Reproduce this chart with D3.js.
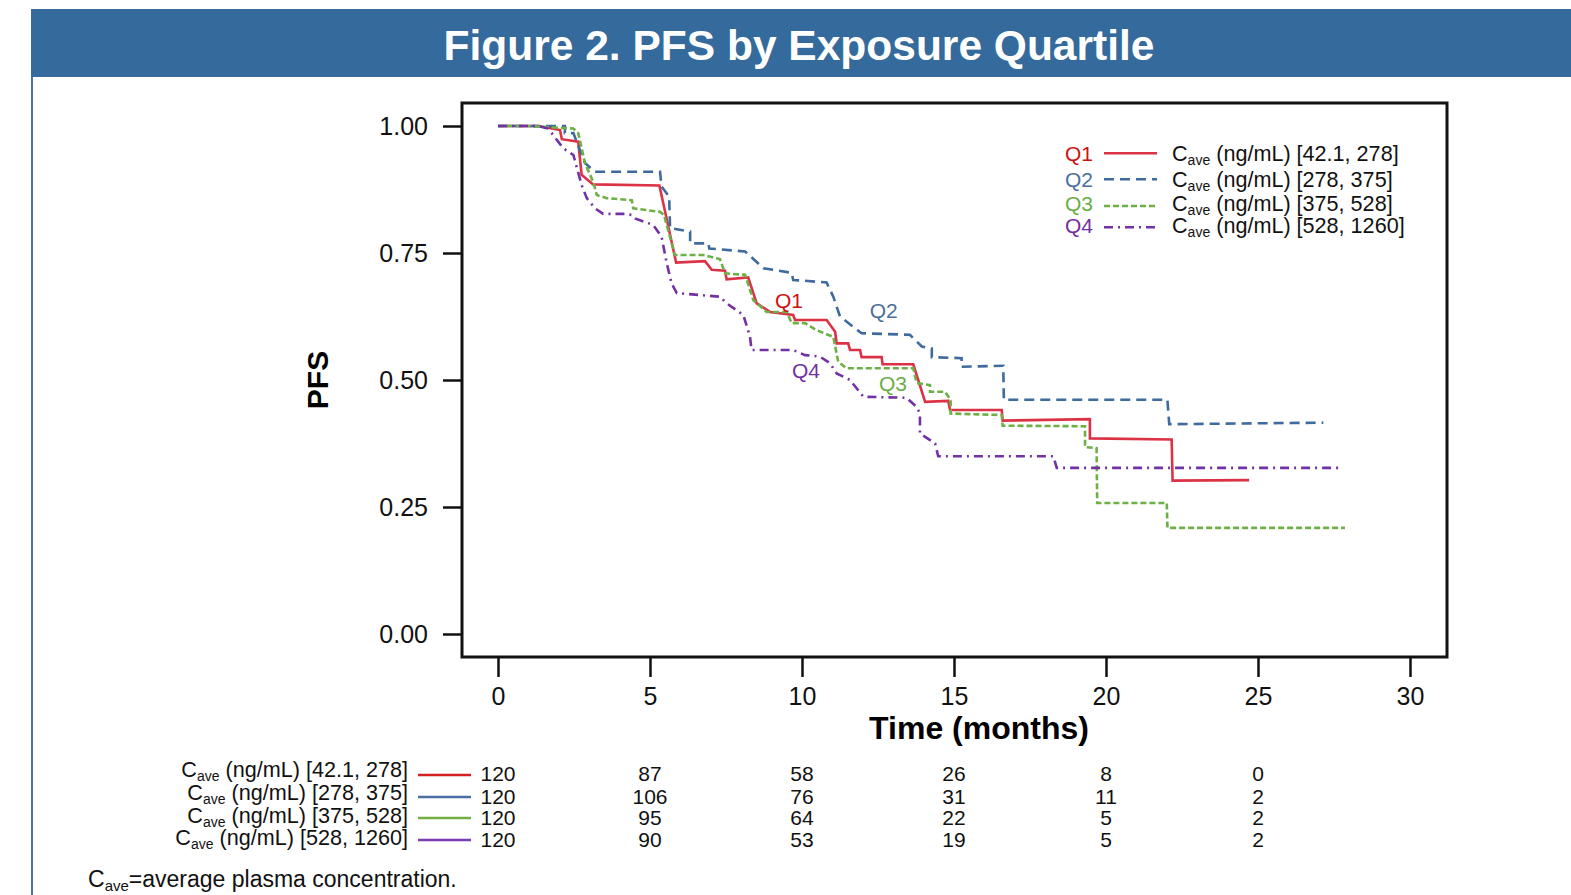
<!DOCTYPE html>
<html>
<head>
    <meta charset="utf-8">
    <script src="https://cdnjs.cloudflare.com/ajax/libs/d3/7.8.5/d3.min.js"></script>
    <style>
        body { margin: 0; background: #fff; }
        svg text { font-family: "Liberation Sans", Arial, sans-serif; }
        .tick text { font-size: 25px; fill: #111; }
        .tick line { stroke: #111; stroke-width: 2.5px; }
    </style>
</head>
<body>
    <div id="chart"></div>
    <script>
        // Kaplan-Meier curves: [time (months), PFS]
        const q1 = [[0,1],[1.33,1],[2.04,0.992],[2.10,0.974],[2.64,0.969],[2.75,0.904],[3.13,0.885],
            [5.31,0.883],[5.86,0.731],[6.81,0.734],[7.03,0.717],[7.47,0.715],[7.52,0.698],[8.23,0.702],
            [8.51,0.651],[8.95,0.634],[9.71,0.628],[9.77,0.618],[10.81,0.618],[11.09,0.595],[11.14,0.572],
            [11.52,0.572],[11.58,0.559],[11.91,0.559],[11.96,0.545],[12.62,0.545],[12.65,0.531],
            [13.66,0.531],[14.05,0.457],[14.81,0.459],[14.87,0.441],[16.57,0.441],[16.60,0.420],
            [19.47,0.423],[19.47,0.385],[22.16,0.383],[22.19,0.302],[24.71,0.303]];
        const q2 = [[0,1],[2.20,1],[2.20,0.986],[2.48,0.986],[2.86,0.927],[3.19,0.910],[5.33,0.910],
            [5.38,0.881],[5.63,0.861],[5.66,0.799],[6.32,0.792],[6.32,0.769],[6.92,0.769],[6.95,0.759],
            [8.13,0.753],[8.73,0.720],[9.66,0.711],[9.71,0.697],[10.81,0.692],[11.03,0.664],[11.25,0.625],
            [11.96,0.592],[13.55,0.589],[13.94,0.566],[14.27,0.562],[14.27,0.545],[15.25,0.543],
            [15.25,0.526],[16.62,0.528],[16.64,0.461],[22.02,0.461],[22.08,0.413],[27.15,0.416]];
        const q3 = [[0,1],[0.94,1],[2.48,0.995],[2.64,0.986],[2.86,0.927],[3.13,0.890],[3.25,0.864],
            [3.58,0.858],[4.40,0.854],[4.45,0.838],[5.33,0.831],[5.46,0.825],[5.82,0.746],[6.75,0.746],
            [7.30,0.738],[7.47,0.710],[8.13,0.707],[8.40,0.657],[8.84,0.634],[9.50,0.634],[9.66,0.612],
            [10.10,0.612],[10.48,0.598],[11.03,0.585],[11.19,0.536],[11.47,0.523],[13.66,0.523],
            [13.77,0.494],[14.21,0.490],[14.21,0.477],[14.70,0.477],[14.89,0.461],[14.89,0.434],
            [16.57,0.431],[16.60,0.410],[19.31,0.409],[19.31,0.368],[19.69,0.366],[19.71,0.258],
            [22.00,0.258],[22.02,0.209],[27.86,0.209]];
        const q4 = [[0,1],[1.33,1],[1.65,0.995],[2.15,0.956],[2.48,0.943],[2.75,0.884],[2.92,0.858],
            [3.19,0.838],[3.46,0.827],[4.12,0.827],[4.40,0.825],[4.51,0.818],[5.11,0.805],[5.38,0.782],
            [5.55,0.730],[5.71,0.690],[5.88,0.671],[7.30,0.664],[7.52,0.651],[8.07,0.628],[8.29,0.585],
            [8.34,0.559],[9.71,0.559],[10.10,0.549],[10.59,0.546],[10.92,0.533],[11.14,0.513],
            [11.58,0.500],[12.02,0.467],[13.44,0.465],[13.77,0.447],[13.88,0.434],[13.88,0.395],
            [14.38,0.375],[14.48,0.350],[18.27,0.350],[18.38,0.327],[27.70,0.327]];

        const groups = ["Q1", "Q2", "Q3", "Q4"];
        const ranges = ["[42.1, 278]", "[278, 375]", "[375, 528]", "[528, 1260]"];
        const series = [q1, q2, q3, q4];

        // numbers at risk
        const riskTimes = [0, 5, 10, 15, 20, 25];
        const riskQ1 = [120, 87, 58, 26, 8, 0];
        const riskQ2 = [120, 106, 76, 31, 11, 2];
        const riskQ3 = [120, 95, 64, 22, 5, 2];
        const riskQ4 = [120, 90, 53, 19, 5, 2];
        const risk = [riskQ1, riskQ2, riskQ3, riskQ4];

        const xTicks = [0, 5, 10, 15, 20, 25, 30];
        const yTicks = [0, 0.25, 0.5, 0.75, 1];

        // in-plot curve labels, in data units
        const curveLabels = [[9.11, 0.641], [12.23, 0.623], [12.53, 0.479], [9.67, 0.503]];

        // styles
        const lineColors = ["#dc3246", "#3f6a9d", "#6db046", "#7232a6"];
        const labelColors = ["#cc1111", "#4a6f9c", "#6aae48", "#7030a0"];
        const riskColors = ["#d42020", "#4a6fa5", "#72b043", "#7a3cb0"];
        const dashes = [null, "10,6", "6,3", "9,5,2,5"];

        const width = 1571, height = 895;
        const svg = d3.select("#chart").append("svg")
            .attr("width", width)
            .attr("height", height);

        // header band
        svg.append("rect")
            .attr("x", 31).attr("y", 9)
            .attr("width", width - 31).attr("height", 68)
            .attr("fill", "#346a9c");
        svg.append("line")
            .attr("x1", 32).attr("x2", 32)
            .attr("y1", 77).attr("y2", height)
            .attr("stroke", "#4a72a8").attr("stroke-width", 2);
        svg.append("text")
            .attr("x", 799).attr("y", 60)
            .attr("text-anchor", "middle")
            .attr("fill", "#fff")
            .style("font-size", "42.5px").style("font-weight", "bold")
            .text("Figure 2. PFS by Exposure Quartile");

        // scales
        const x = d3.scaleLinear().domain([0, 30]).range([498, 1410]);
        const y = d3.scaleLinear().domain([0, 1]).range([634, 126]);
        const box = { left: 462, right: 1447, top: 103, bottom: 657 };

        // axes
        const yAxis = svg.append("g")
            .attr("transform", `translate(${box.left},0)`)
            .call(d3.axisLeft(y).tickValues(yTicks).tickFormat(d3.format(".2f"))
                .tickSize(19).tickPadding(15));
        yAxis.select(".domain").remove();

        const xAxis = svg.append("g")
            .attr("transform", `translate(0,${box.bottom})`)
            .call(d3.axisBottom(x).tickValues(xTicks).tickFormat(d3.format("d"))
                .tickSize(20).tickPadding(10));
        xAxis.select(".domain").remove();

        svg.append("rect")
            .attr("x", box.left).attr("y", box.top)
            .attr("width", box.right - box.left).attr("height", box.bottom - box.top)
            .attr("fill", "none").attr("stroke", "#111").attr("stroke-width", 3);

        svg.append("text")
            .attr("x", 979).attr("y", 739)
            .attr("text-anchor", "middle")
            .style("font-size", "32px").style("font-weight", "bold")
            .text("Time (months)");
        svg.append("text")
            .attr("transform", "translate(328,380) rotate(-90)")
            .attr("text-anchor", "middle")
            .style("font-size", "30px").style("font-weight", "bold")
            .text("PFS");

        // curves
        const line = d3.line().x(d => x(d[0])).y(d => y(d[1]));
        svg.append("g")
            .selectAll("path")
            .data(series)
            .join("path")
            .attr("d", line)
            .attr("fill", "none")
            .attr("stroke", (d, i) => lineColors[i])
            .attr("stroke-width", 2.6)
            .attr("stroke-dasharray", (d, i) => dashes[i]);

        svg.append("g")
            .selectAll("text")
            .data(curveLabels)
            .join("text")
            .attr("x", d => x(d[0]))
            .attr("y", d => y(d[1]))
            .attr("fill", (d, i) => labelColors[i])
            .style("font-size", "21px")
            .text((d, i) => groups[i]);

        // C with "ave" subscript
        function caveLabel(g, px, py, range, anchor, size) {
            const t = g.append("text")
                .attr("x", px).attr("y", py)
                .attr("text-anchor", anchor)
                .style("font-size", size + "px")
                .attr("fill", "#111");
            t.append("tspan").text("C");
            t.append("tspan").attr("dy", 4).style("font-size", "14px").text("ave");
            t.append("tspan").attr("dy", -4).text(" (ng/mL) " + range);
        }

        // legend
        const legRows = [160.7, 186.7, 211, 232.7];
        const legLines = [153.3, 179.3, 206, 227.3];
        const legend = svg.append("g");
        groups.forEach((g, i) => {
            legend.append("text")
                .attr("x", 1093).attr("y", legRows[i])
                .attr("text-anchor", "end")
                .attr("fill", labelColors[i])
                .style("font-size", "21px")
                .text(g);
            legend.append("line")
                .attr("x1", 1104).attr("x2", 1157)
                .attr("y1", legLines[i]).attr("y2", legLines[i])
                .attr("stroke", lineColors[i])
                .attr("stroke-width", 2.6)
                .attr("stroke-dasharray", dashes[i]);
            caveLabel(legend, 1172, legRows[i], ranges[i], "start", 21.6);
        });

        // risk table
        const labRows = [777, 800, 823, 845];
        const lineRows = [775, 797, 818, 840];
        const numRows = [781, 804, 825, 847];
        const table = svg.append("g");
        groups.forEach((g, i) => {
            caveLabel(table, 408, labRows[i], ranges[i], "end", 21.6);
            table.append("line")
                .attr("x1", 418).attr("x2", 471)
                .attr("y1", lineRows[i]).attr("y2", lineRows[i])
                .attr("stroke", riskColors[i]).attr("stroke-width", 2.5);
            table.selectAll(null)
                .data(risk[i])
                .join("text")
                .attr("x", (d, j) => x(riskTimes[j]))
                .attr("y", numRows[i])
                .attr("text-anchor", "middle")
                .style("font-size", "21px")
                .attr("fill", "#111")
                .text(d => d);
        });

        // footnote
        const foot = svg.append("text")
            .attr("x", 88).attr("y", 887)
            .style("font-size", "23px")
            .attr("fill", "#111");
        foot.append("tspan").text("C");
        foot.append("tspan").attr("dy", 4).style("font-size", "15px").text("ave");
        foot.append("tspan").attr("dy", -4).text("=average plasma concentration.");
    </script>
</body>
</html>
